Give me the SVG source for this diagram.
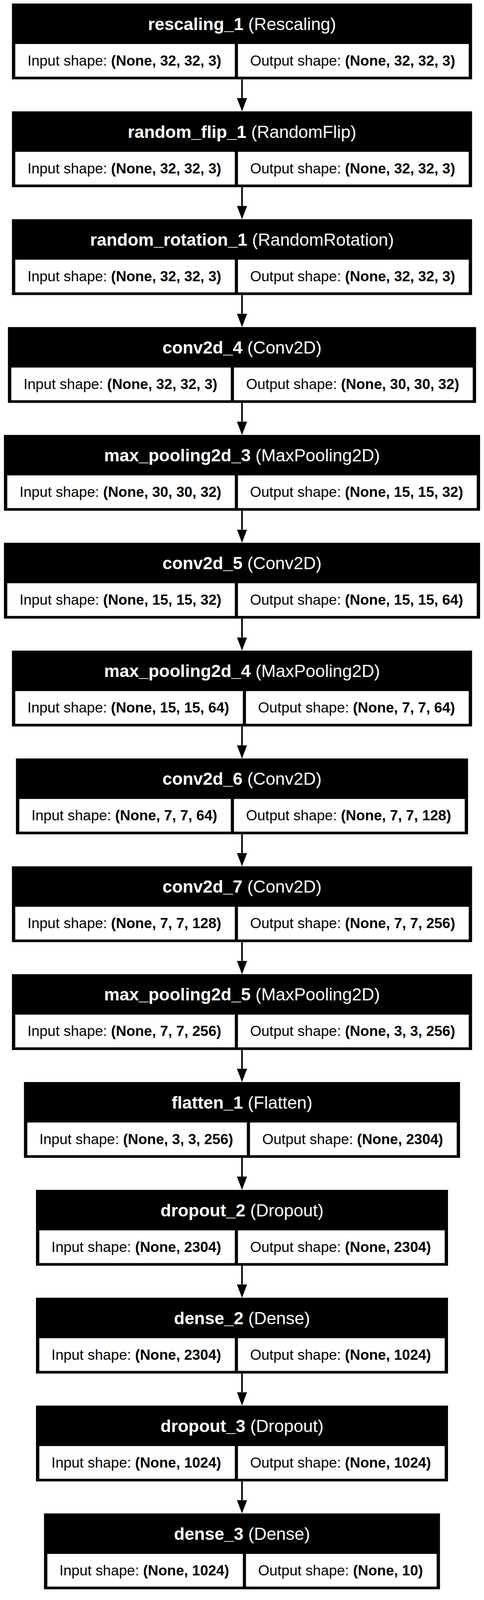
<svg xmlns="http://www.w3.org/2000/svg" width="1238" height="4985" viewBox="0 0 1238 4985">
<defs>
<style>
.bg{fill:#fff}
.box{fill:#000}
.cell{fill:#fff}
.hdr{font-family:"Liberation Sans",Arial,Helvetica,sans-serif;font-size:44.4px;fill:#fff;text-anchor:middle}
.lbl{font-family:"Liberation Sans",Arial,Helvetica,sans-serif;font-size:37px;fill:#000;text-anchor:middle}
.b{font-weight:bold}
.edge{stroke:#000;stroke-width:4;fill:none}
</style>
<marker id="ah" viewBox="0 0 34 26" refX="0" refY="13" markerWidth="34" markerHeight="26" markerUnits="userSpaceOnUse" orient="auto">
<path d="M0,0 L34,13 L0,26 Z" fill="#000"/>
</marker>
</defs>
<rect class="bg" x="0" y="0" width="1238" height="4985"/>

<g id="connectors">
<line class="edge" x1="619" y1="203.1" x2="619" y2="251.1" marker-end="url(#ah)"/>
<line class="edge" x1="619" y1="479.2" x2="619" y2="527.2" marker-end="url(#ah)"/>
<line class="edge" x1="619" y1="755.3" x2="619" y2="803.3" marker-end="url(#ah)"/>
<line class="edge" x1="619" y1="1031.4" x2="619" y2="1079.4" marker-end="url(#ah)"/>
<line class="edge" x1="619" y1="1307.5" x2="619" y2="1355.5" marker-end="url(#ah)"/>
<line class="edge" x1="619" y1="1583.6" x2="619" y2="1631.6" marker-end="url(#ah)"/>
<line class="edge" x1="619" y1="1859.7" x2="619" y2="1907.7" marker-end="url(#ah)"/>
<line class="edge" x1="619" y1="2135.8" x2="619" y2="2183.8" marker-end="url(#ah)"/>
<line class="edge" x1="619" y1="2411.9" x2="619" y2="2459.9" marker-end="url(#ah)"/>
<line class="edge" x1="619" y1="2688" x2="619" y2="2736" marker-end="url(#ah)"/>
<line class="edge" x1="619" y1="2964.1" x2="619" y2="3012.1" marker-end="url(#ah)"/>
<line class="edge" x1="619" y1="3240.2" x2="619" y2="3288.2" marker-end="url(#ah)"/>
<line class="edge" x1="619" y1="3516.3" x2="619" y2="3564.3" marker-end="url(#ah)"/>
<line class="edge" x1="619" y1="3792.4" x2="619" y2="3840.4" marker-end="url(#ah)"/>
</g>

<g id="rescaling_1" transform="translate(0,9)">
<rect class="box" x="30.55" y="0" width="1176.9" height="194.1"/>
<rect class="cell" x="39.05" y="103.6" width="561.6" height="83.7"/>
<rect class="cell" x="608.65" y="103.6" width="590.3" height="83.7"/>
<text class="hdr" x="619" y="67.5"><tspan class="b">rescaling_1</tspan> (Rescaling)</text>
<text class="lbl" x="318" y="158.5">Input shape: <tspan class="b">(None, 32, 32, 3)</tspan></text>
<text class="lbl" x="902" y="158.5">Output shape: <tspan class="b">(None, 32, 32, 3)</tspan></text>
</g>

<g id="random_flip_1" transform="translate(0,285.1)">
<rect class="box" x="30.55" y="0" width="1176.9" height="194.1"/>
<rect class="cell" x="39.05" y="103.6" width="561.6" height="83.7"/>
<rect class="cell" x="608.65" y="103.6" width="590.3" height="83.7"/>
<text class="hdr" x="619" y="67.5"><tspan class="b">random_flip_1</tspan> (RandomFlip)</text>
<text class="lbl" x="318" y="158.5">Input shape: <tspan class="b">(None, 32, 32, 3)</tspan></text>
<text class="lbl" x="902" y="158.5">Output shape: <tspan class="b">(None, 32, 32, 3)</tspan></text>
</g>

<g id="random_rotation_1" transform="translate(0,561.2)">
<rect class="box" x="30.55" y="0" width="1176.9" height="194.1"/>
<rect class="cell" x="39.05" y="103.6" width="561.6" height="83.7"/>
<rect class="cell" x="608.65" y="103.6" width="590.3" height="83.7"/>
<text class="hdr" x="619" y="67.5"><tspan class="b">random_rotation_1</tspan> (RandomRotation)</text>
<text class="lbl" x="318" y="158.5">Input shape: <tspan class="b">(None, 32, 32, 3)</tspan></text>
<text class="lbl" x="902" y="158.5">Output shape: <tspan class="b">(None, 32, 32, 3)</tspan></text>
</g>

<g id="conv2d_4" transform="translate(0,837.3)">
<rect class="box" x="20.3" y="0" width="1197.4" height="194.1"/>
<rect class="cell" x="28.8" y="103.6" width="561.6" height="83.7"/>
<rect class="cell" x="598.4" y="103.6" width="610.8" height="83.7"/>
<text class="hdr" x="619" y="67.5"><tspan class="b">conv2d_4</tspan> (Conv2D)</text>
<text class="lbl" x="308" y="158.5">Input shape: <tspan class="b">(None, 32, 32, 3)</tspan></text>
<text class="lbl" x="902" y="158.5">Output shape: <tspan class="b">(None, 30, 30, 32)</tspan></text>
</g>

<g id="max_pooling2d_3" transform="translate(0,1113.4)">
<rect class="box" x="10.05" y="0" width="1217.9" height="194.1"/>
<rect class="cell" x="18.55" y="103.6" width="582.1" height="83.7"/>
<rect class="cell" x="608.65" y="103.6" width="610.8" height="83.7"/>
<text class="hdr" x="619" y="67.5"><tspan class="b">max_pooling2d_3</tspan> (MaxPooling2D)</text>
<text class="lbl" x="308" y="158.5">Input shape: <tspan class="b">(None, 30, 30, 32)</tspan></text>
<text class="lbl" x="912" y="158.5">Output shape: <tspan class="b">(None, 15, 15, 32)</tspan></text>
</g>

<g id="conv2d_5" transform="translate(0,1389.5)">
<rect class="box" x="10.05" y="0" width="1217.9" height="194.1"/>
<rect class="cell" x="18.55" y="103.6" width="582.1" height="83.7"/>
<rect class="cell" x="608.65" y="103.6" width="610.8" height="83.7"/>
<text class="hdr" x="619" y="67.5"><tspan class="b">conv2d_5</tspan> (Conv2D)</text>
<text class="lbl" x="308" y="158.5">Input shape: <tspan class="b">(None, 15, 15, 32)</tspan></text>
<text class="lbl" x="912" y="158.5">Output shape: <tspan class="b">(None, 15, 15, 64)</tspan></text>
</g>

<g id="max_pooling2d_4" transform="translate(0,1665.6)">
<rect class="box" x="30.55" y="0" width="1176.9" height="194.1"/>
<rect class="cell" x="39.05" y="103.6" width="582.1" height="83.7"/>
<rect class="cell" x="629.15" y="103.6" width="569.8" height="83.7"/>
<text class="hdr" x="619" y="67.5"><tspan class="b">max_pooling2d_4</tspan> (MaxPooling2D)</text>
<text class="lbl" x="328" y="158.5">Input shape: <tspan class="b">(None, 15, 15, 64)</tspan></text>
<text class="lbl" x="912" y="158.5">Output shape: <tspan class="b">(None, 7, 7, 64)</tspan></text>
</g>

<g id="conv2d_6" transform="translate(0,1941.7)">
<rect class="box" x="40.8" y="0" width="1156.4" height="194.1"/>
<rect class="cell" x="49.3" y="103.6" width="541.1" height="83.7"/>
<rect class="cell" x="598.4" y="103.6" width="590.3" height="83.7"/>
<text class="hdr" x="619" y="67.5"><tspan class="b">conv2d_6</tspan> (Conv2D)</text>
<text class="lbl" x="318" y="158.5">Input shape: <tspan class="b">(None, 7, 7, 64)</tspan></text>
<text class="lbl" x="891.5" y="158.5">Output shape: <tspan class="b">(None, 7, 7, 128)</tspan></text>
</g>

<g id="conv2d_7" transform="translate(0,2217.8)">
<rect class="box" x="30.55" y="0" width="1176.9" height="194.1"/>
<rect class="cell" x="39.05" y="103.6" width="561.6" height="83.7"/>
<rect class="cell" x="608.65" y="103.6" width="590.3" height="83.7"/>
<text class="hdr" x="619" y="67.5"><tspan class="b">conv2d_7</tspan> (Conv2D)</text>
<text class="lbl" x="318" y="158.5">Input shape: <tspan class="b">(None, 7, 7, 128)</tspan></text>
<text class="lbl" x="902" y="158.5">Output shape: <tspan class="b">(None, 7, 7, 256)</tspan></text>
</g>

<g id="max_pooling2d_5" transform="translate(0,2493.9)">
<rect class="box" x="30.55" y="0" width="1176.9" height="194.1"/>
<rect class="cell" x="39.05" y="103.6" width="561.6" height="83.7"/>
<rect class="cell" x="608.65" y="103.6" width="590.3" height="83.7"/>
<text class="hdr" x="619" y="67.5"><tspan class="b">max_pooling2d_5</tspan> (MaxPooling2D)</text>
<text class="lbl" x="318" y="158.5">Input shape: <tspan class="b">(None, 7, 7, 256)</tspan></text>
<text class="lbl" x="902" y="158.5">Output shape: <tspan class="b">(None, 3, 3, 256)</tspan></text>
</g>

<g id="flatten_1" transform="translate(0,2770)">
<rect class="box" x="61.3" y="0" width="1115.4" height="194.1"/>
<rect class="cell" x="69.8" y="103.6" width="561.6" height="83.7"/>
<rect class="cell" x="639.4" y="103.6" width="528.8" height="83.7"/>
<text class="hdr" x="619" y="67.5"><tspan class="b">flatten_1</tspan> (Flatten)</text>
<text class="lbl" x="348.6" y="158.5">Input shape: <tspan class="b">(None, 3, 3, 256)</tspan></text>
<text class="lbl" x="902" y="158.5">Output shape: <tspan class="b">(None, 2304)</tspan></text>
</g>

<g id="dropout_2" transform="translate(0,3046.1)">
<rect class="box" x="92.05" y="0" width="1053.9" height="194.1"/>
<rect class="cell" x="100.55" y="103.6" width="500.1" height="83.7"/>
<rect class="cell" x="608.65" y="103.6" width="528.8" height="83.7"/>
<text class="hdr" x="619" y="67.5"><tspan class="b">dropout_2</tspan> (Dropout)</text>
<text class="lbl" x="348.6" y="158.5">Input shape: <tspan class="b">(None, 2304)</tspan></text>
<text class="lbl" x="871" y="158.5">Output shape: <tspan class="b">(None, 2304)</tspan></text>
</g>

<g id="dense_2" transform="translate(0,3322.2)">
<rect class="box" x="92.05" y="0" width="1053.9" height="194.1"/>
<rect class="cell" x="100.55" y="103.6" width="500.1" height="83.7"/>
<rect class="cell" x="608.65" y="103.6" width="528.8" height="83.7"/>
<text class="hdr" x="619" y="67.5"><tspan class="b">dense_2</tspan> (Dense)</text>
<text class="lbl" x="348.6" y="158.5">Input shape: <tspan class="b">(None, 2304)</tspan></text>
<text class="lbl" x="871" y="158.5">Output shape: <tspan class="b">(None, 1024)</tspan></text>
</g>

<g id="dropout_3" transform="translate(0,3598.3)">
<rect class="box" x="92.05" y="0" width="1053.9" height="194.1"/>
<rect class="cell" x="100.55" y="103.6" width="500.1" height="83.7"/>
<rect class="cell" x="608.65" y="103.6" width="528.8" height="83.7"/>
<text class="hdr" x="619" y="67.5"><tspan class="b">dropout_3</tspan> (Dropout)</text>
<text class="lbl" x="348.6" y="158.5">Input shape: <tspan class="b">(None, 1024)</tspan></text>
<text class="lbl" x="871" y="158.5">Output shape: <tspan class="b">(None, 1024)</tspan></text>
</g>

<g id="dense_3" transform="translate(0,3874.4)">
<rect class="box" x="112.6" y="0" width="1012.8" height="194.1"/>
<rect class="cell" x="121.1" y="103.6" width="500.1" height="83.7"/>
<rect class="cell" x="629.2" y="103.6" width="487.7" height="83.7"/>
<text class="hdr" x="619" y="67.5"><tspan class="b">dense_3</tspan> (Dense)</text>
<text class="lbl" x="369" y="158.5">Input shape: <tspan class="b">(None, 1024)</tspan></text>
<text class="lbl" x="871" y="158.5">Output shape: <tspan class="b">(None, 10)</tspan></text>
</g>
</svg>
